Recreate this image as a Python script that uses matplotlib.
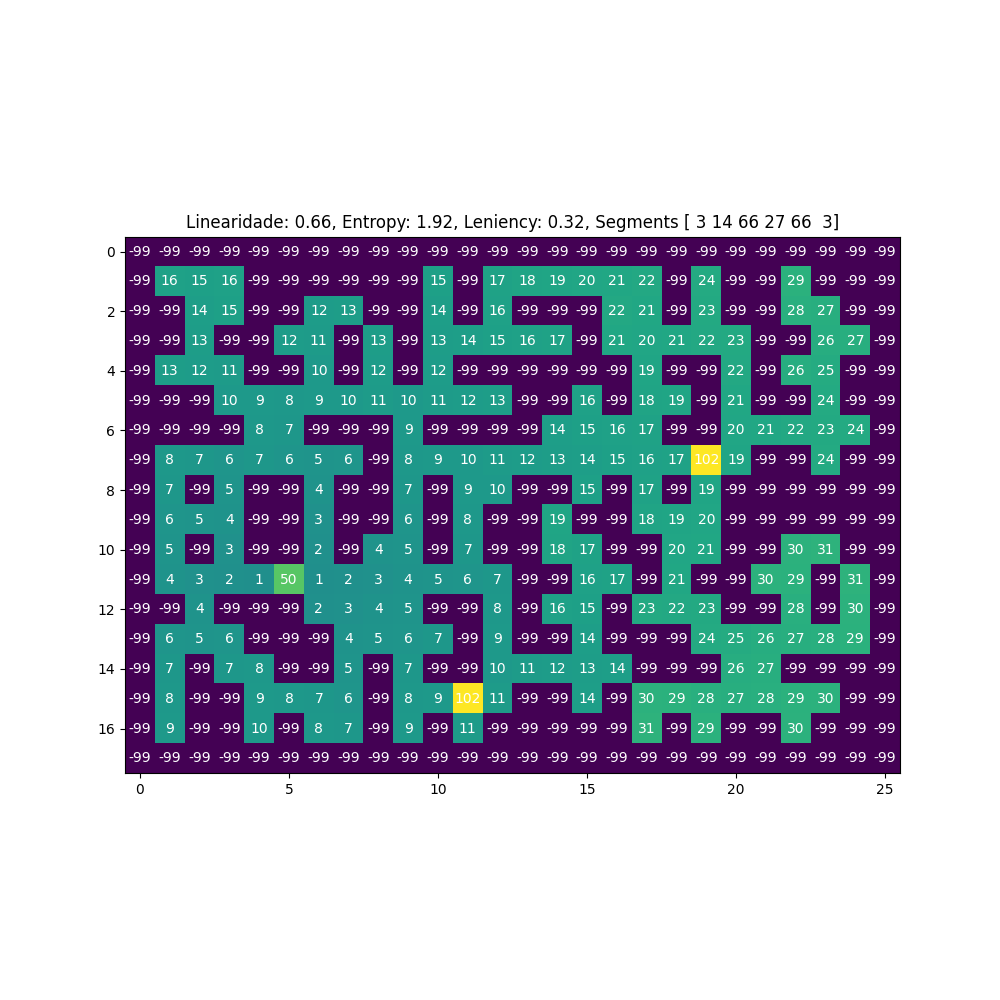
import numpy as np
import matplotlib
matplotlib.use('Agg')
import matplotlib.pyplot as plt

W = -99
grid = [
    [W]*26,
    [W, 16, 15, 16, W, W, W, W, W, W, 15, W, 17, 18, 19, 20, 21, 22, W, 24, W, W, 29, W, W, W],
    [W, W, 14, 15, W, W, 12, 13, W, W, 14, W, 16, W, W, W, 22, 21, W, 23, W, W, 28, 27, W, W],
    [W, W, 13, W, W, 12, 11, W, 13, W, 13, 14, 15, 16, 17, W, 21, 20, 21, 22, 23, W, W, 26, 27, W],
    [W, 13, 12, 11, W, W, 10, W, 12, W, 12, W, W, W, W, W, W, 19, W, W, 22, W, 26, 25, W, W],
    [W, W, W, 10, 9, 8, 9, 10, 11, 10, 11, 12, 13, W, W, 16, W, 18, 19, W, 21, W, W, 24, W, W],
    [W, W, W, W, 8, 7, W, W, W, 9, W, W, W, W, 14, 15, 16, 17, W, W, 20, 21, 22, 23, 24, W],
    [W, 8, 7, 6, 7, 6, 5, 6, W, 8, 9, 10, 11, 12, 13, 14, 15, 16, 17, 102, 19, W, W, 24, W, W],
    [W, 7, W, 5, W, W, 4, W, W, 7, W, 9, 10, W, W, 15, W, 17, W, 19, W, W, W, W, W, W],
    [W, 6, 5, 4, W, W, 3, W, W, 6, W, 8, W, W, 19, W, W, 18, 19, 20, W, W, W, W, W, W],
    [W, 5, W, 3, W, W, 2, W, 4, 5, W, 7, W, W, 18, 17, W, W, 20, 21, W, W, 30, 31, W, W],
    [W, 4, 3, 2, 1, 50, 1, 2, 3, 4, 5, 6, 7, W, W, 16, 17, W, 21, W, W, 30, 29, W, 31, W],
    [W, W, 4, W, W, W, 2, 3, 4, 5, W, W, 8, W, 16, 15, W, 23, 22, 23, W, W, 28, W, 30, W],
    [W, 6, 5, 6, W, W, W, 4, 5, 6, 7, W, 9, W, W, 14, W, W, W, 24, 25, 26, 27, 28, 29, W],
    [W, 7, W, 7, 8, W, W, 5, W, 7, W, W, 10, 11, 12, 13, 14, W, W, W, 26, 27, W, W, W, W],
    [W, 8, W, W, 9, 8, 7, 6, W, 8, 9, 102, 11, W, W, 14, W, 30, 29, 28, 27, 28, 29, 30, W, W],
    [W, 9, W, W, 10, W, 8, 7, W, 9, W, 11, W, W, W, W, W, 31, W, 29, W, W, 30, W, W, W],
    [W]*26,
]
title = 'Linearidade: 0.66, Entropy: 1.92, Leniency: 0.32, Segments [ 3 14 66 27 66  3]'

data = np.array(grid)

fig, ax = plt.subplots(figsize=(10, 10), dpi=100)
ax.imshow(data, cmap='viridis')
for i in range(data.shape[0]):
    for j in range(data.shape[1]):
        ax.text(j, i, str(data[i, j]), ha='center', va='center', color='w', fontsize=10)
ax.set_title(title)
fig.savefig('out.png')
